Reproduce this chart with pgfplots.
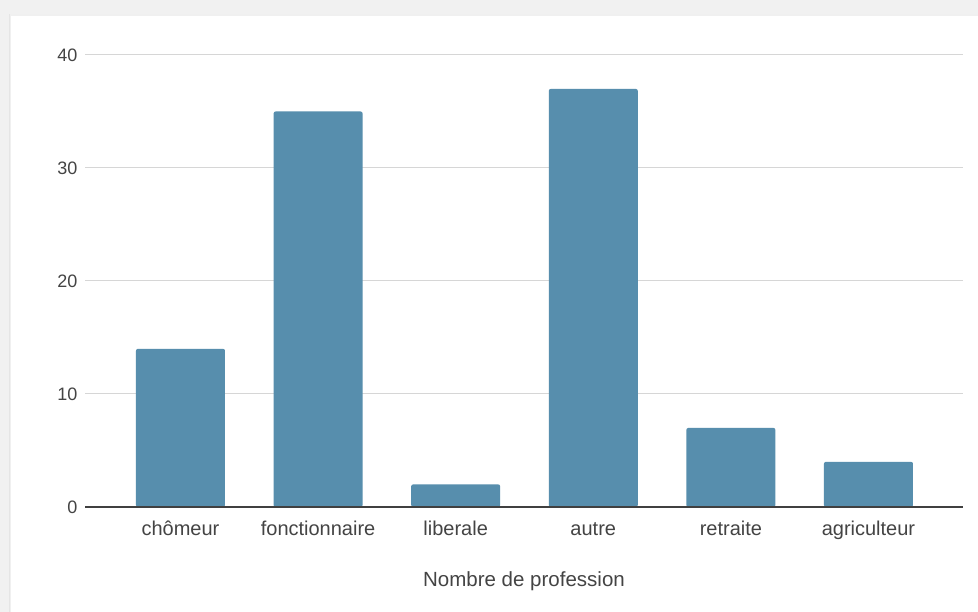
\documentclass[border=0pt]{standalone}
\usepackage{pgfplots}
\pgfplotsset{compat=1.18}
\usepackage{fontspec}
\setmainfont{Liberation Sans}
\definecolor{barc}{HTML}{578EAD}
\definecolor{txt}{HTML}{444444}
\definecolor{gridc}{HTML}{D6D6D6}
\definecolor{outer}{HTML}{F1F1F1}
\begin{document}
\begin{tikzpicture}[x=1pt,y=1pt]
\fill[outer] (0,0) rectangle (978,612);
\fill[black!10] (9,0) rectangle (978,598);
\fill[black!6] (10,0) rectangle (978,597.5);
\fill[white] (11,0) rectangle (978,596);
\useasboundingbox (0,0) rectangle (978,612);
\begin{axis}[
  at={(85pt,105pt)}, anchor=south west,
  scale only axis, width=878pt, height=452pt,
  xmin=-0.694, xmax=5.687, ymin=0, ymax=40,
  ytick={0,10,20,30,40},
  xtick={0,1,2,3,4,5},
  xticklabels={chômeur,fonctionnaire,liberale,autre,retraite,agriculteur},
  axis line style={draw=none},
  major tick length=0pt,
  ymajorgrids, grid style={gridc, line width=1pt},
  /pgf/number format/assume math mode=true,
  yticklabel style={font=\fontsize{18}{20}\selectfont, text=txt, xshift=-4pt},
  xticklabel style={font=\fontsize{20}{22}\selectfont, text=txt, text height=14.5pt, text depth=4pt, yshift=-10pt},
  xlabel={Nombre de profession},
  every axis x label/.style={at={(axis description cs:0.5,0)}, anchor=center, yshift=-74pt, font=\fontsize{20.5}{22}\selectfont, text=txt},
  clip=false,
]
\addplot[ybar, bar width=89pt, fill=barc, draw=none, rounded corners=2pt] coordinates {(0,14) (1,35) (2,2) (3,37) (4,7) (5,4)};
\draw[black!75, line width=1.5pt] (axis cs:-0.694,0) -- (axis cs:5.687,0);
\end{axis}
\end{tikzpicture}
\end{document}
